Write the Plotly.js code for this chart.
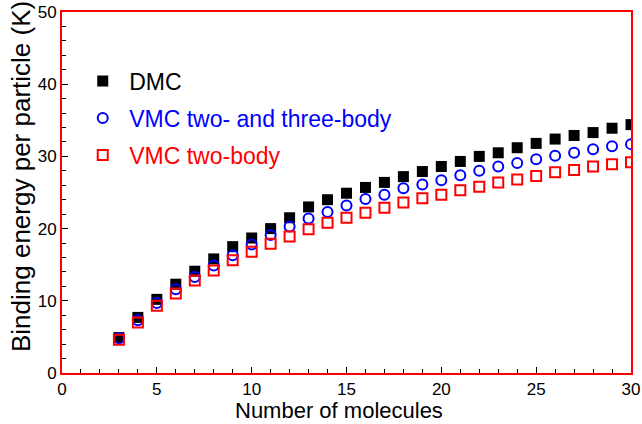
<!DOCTYPE html>
<html>
<head>
<meta charset="utf-8">
<script src="https://cdn.plot.ly/plotly-3.0.1.min.js"></script>
<style>html,body{margin:0;padding:0;background:#fff;}#chart{width:642px;height:424px;}</style>
</head>
<body>
<div id="chart"></div>
<script>
var molecules = [3,4,5,6,7,8,9,10,11,12,13,14,15,16,17,18,19,20,21,22,23,24,25,26,27,28,29,30];
var dmc = [4.9,7.7,10.2,12.3,14.1,15.8,17.5,18.7,20.0,21.5,23.0,24.0,24.9,25.7,26.4,27.2,27.9,28.6,29.3,30.0,30.5,31.2,31.8,32.4,32.9,33.3,33.9,34.4];
var vmcThree = [4.8,7.3,9.7,11.6,13.3,14.9,16.3,17.8,19.1,20.3,21.4,22.3,23.2,24.1,24.7,25.6,26.1,26.7,27.4,28.0,28.6,29.1,29.6,30.1,30.5,31.0,31.4,31.7];
var vmcTwo = [4.6,7.0,9.3,11.0,12.8,14.2,15.6,16.8,17.9,18.9,19.9,20.8,21.5,22.2,22.9,23.6,24.2,24.7,25.3,25.8,26.4,26.8,27.3,27.8,28.1,28.6,28.9,29.2];
var seriesNames = ['DMC','VMC two- and three-body','VMC two-body'];
var seriesColors = ['#000000','#0000ff','#ff0000'];
var xTicks = [0,5,10,15,20,25,30];
var yTicks = [0,10,20,30,40,50];
var xTitle = 'Number of molecules';
var yTitle = 'Binding energy per particle (K)';

function nm(i){ return '<span style="color:' + seriesColors[i] + '">' + seriesNames[i] + '</span>'; }

var traces = [
  {x: molecules, y: dmc, name: nm(0), legendgroup:'a', type:'scatter', mode:'markers',
   marker:{symbol:'square', size:11, color:seriesColors[0], line:{width:0}}},
  {x: molecules, y: vmcThree, name: nm(1), legendgroup:'b', type:'scatter', mode:'markers',
   marker:{symbol:'circle-open', size:10, color:seriesColors[1], line:{width:2}}},
  {x: molecules, y: vmcTwo, name: nm(2), legendgroup:'c', type:'scatter', mode:'markers',
   marker:{symbol:'square-open', size:10, color:seriesColors[2], line:{width:2}}}
];

var layout = {
  width: 642, height: 424,
  margin: {l: 62, r: 11, t: 12, b: 51},
  paper_bgcolor: '#fff', plot_bgcolor: '#fff',
  font: {family: 'Liberation Sans, Arial, sans-serif', color: '#000', size: 17},
  showlegend: true,
  legend: {x: 0.025, y: 0.868, xanchor: 'left', yanchor: 'top', bgcolor: 'rgba(0,0,0,0)',
           font: {size: 23}, traceorder: 'grouped', tracegroupgap: 4, itemwidth: 43},
  xaxis: {
    range: [0, 30], tickvals: xTicks, ticks: 'inside', ticklen: 6, tickwidth: 1, tickcolor: '#000',
    minor: {dtick: 1, ticks: 'inside', ticklen: 4, tickcolor: '#000'},
    showgrid: false, zeroline: false, showline: true, linecolor: '#ff0000', linewidth: 2, mirror: true,
    tickfont: {size: 17}
  },
  yaxis: {
    range: [0, 50], tickvals: yTicks, ticks: 'inside', ticklen: 6, tickwidth: 1, tickcolor: '#000',
    minor: {dtick: 2, ticks: 'inside', ticklen: 4, tickcolor: '#000'},
    showgrid: false, zeroline: false, showline: true, linecolor: '#ff0000', linewidth: 2, mirror: true,
    tickfont: {size: 17}
  },
  annotations: [
    {text: xTitle, xref: 'paper', yref: 'paper', x: 0.487, y: -0.105, xanchor: 'center', yanchor: 'middle',
     showarrow: false, font: {size: 22}},
    {text: yTitle, xref: 'paper', yref: 'paper', x: -0.072, y: 0.543, xanchor: 'center', yanchor: 'middle',
     textangle: -90, showarrow: false, font: {size: 26}}
  ]
};
Plotly.newPlot('chart', traces, layout, {displayModeBar: false, staticPlot: true});
</script>
</body>
</html>
